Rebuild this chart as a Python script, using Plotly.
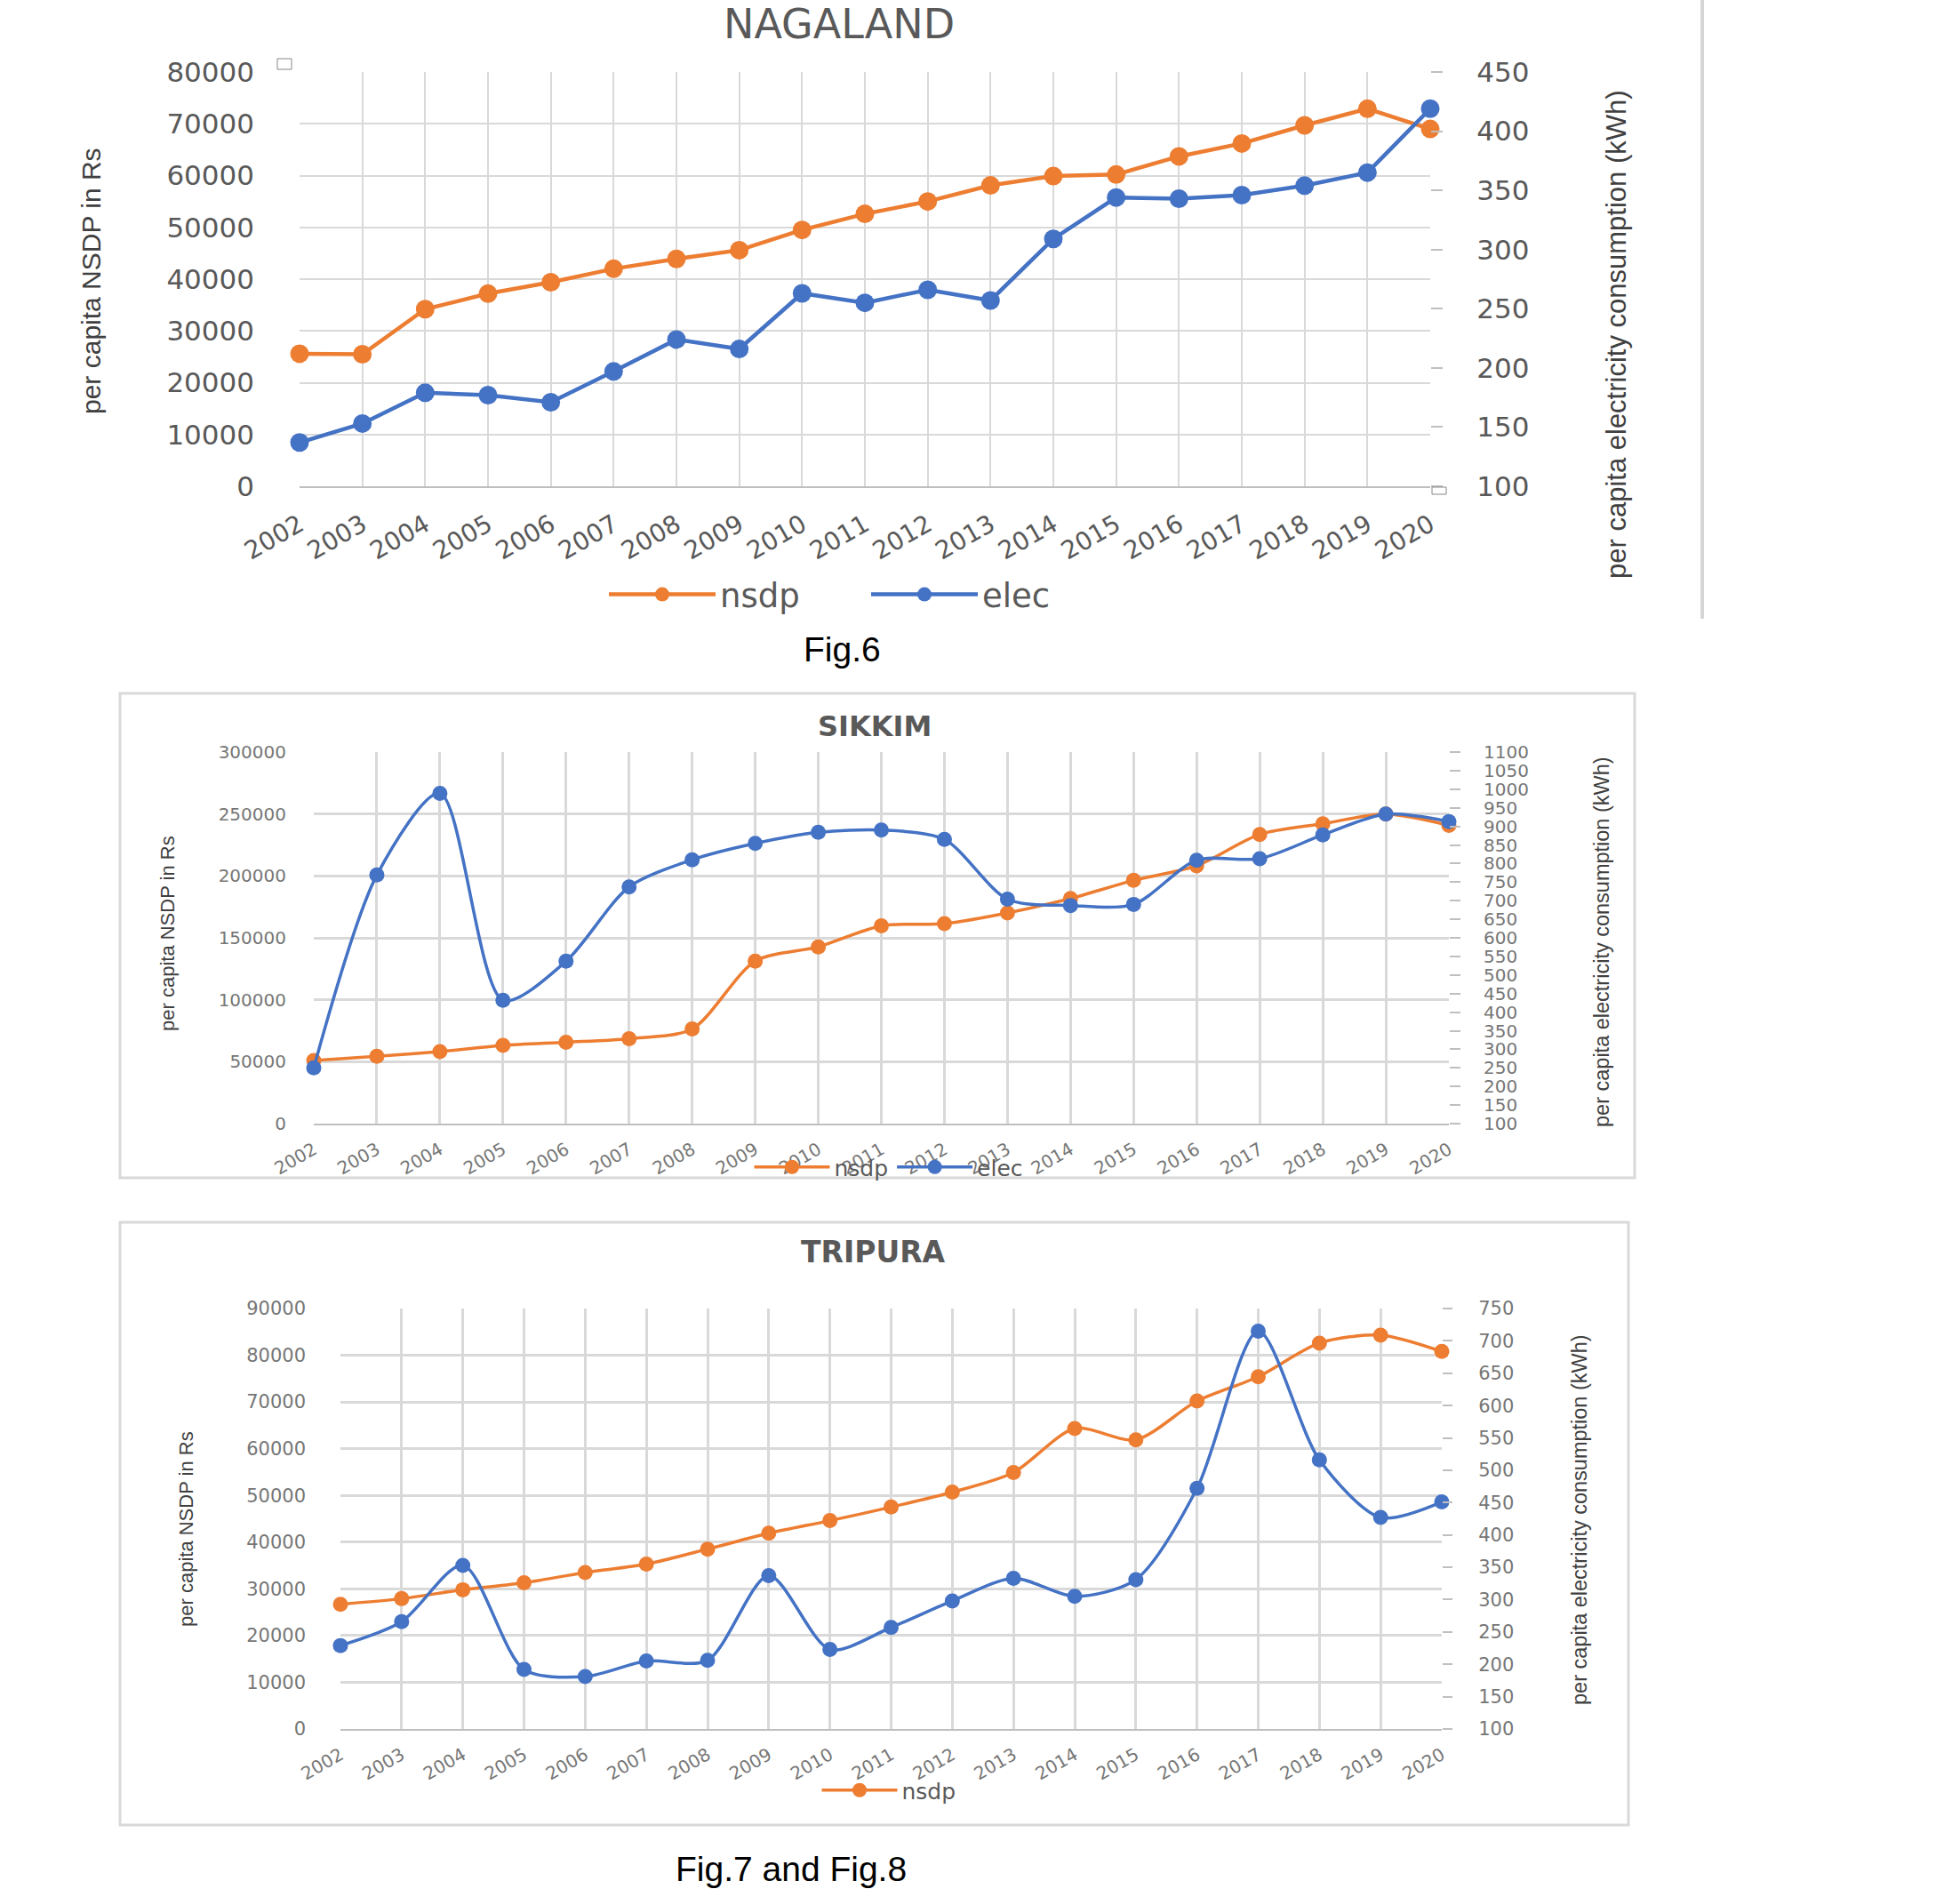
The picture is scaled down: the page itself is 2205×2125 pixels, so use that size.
import plotly.graph_objects as go

# ---------------- data ----------------
years = list(range(2002, 2021))
year_labels = [str(y) for y in years]

nagaland_nsdp = [25600, 25500, 34200, 37200, 39400, 42000, 43900, 45600, 49500, 52600,
                 55000, 58100, 59900, 60200, 63700, 66200, 69700, 72900, 69000]
nagaland_elec = [137, 153, 179, 177, 171, 197, 224, 216, 263, 255,
                 266, 257, 309, 344, 343, 346, 354, 365, 419]

sikkim_nsdp = [51000, 54300, 58200, 63100, 65700, 68600, 76400, 131200, 142700, 159700,
               161500, 170100, 181800, 196400, 208200, 233500, 242100, 249900, 240800]
sikkim_elec = [250, 769, 989, 432, 537, 737, 810, 854, 884, 890,
               865, 704, 687, 690, 809, 813, 877, 933, 913]

tripura_nsdp = [26700, 27900, 29800, 31300, 33500, 35300, 38500, 41900, 44600, 47500,
                50700, 54900, 64300, 61900, 70200, 75400, 82600, 84300, 80800]
tripura_elec = [229, 266, 353, 192, 181, 205, 206, 337, 223, 257,
                298, 333, 305, 331, 472, 715, 516, 427, 451]

series_names = ["nsdp", "elec"]
titles = ["NAGALAND", "SIKKIM", "TRIPURA"]
left_title = "per capita NSDP in Rs"
right_title = "per capita electricity consumption (kWh)"

# ---------------- style ----------------
W, H = 2205, 2125
ORANGE = "#ED7D31"
BLUE = "#4472C4"
GRID = "#d9d9d9"
TICKC = "#595959"
LIGHT = "#767676"
NARROW = "Liberation Sans, Arial, sans-serif"
WIDE = "DejaVu Sans, Verdana, sans-serif"


def px_x(x):
    return x / W


def px_y(y):
    return 1 - y / H


fig = go.Figure()

charts = [
    dict(nsdp=nagaland_nsdp, elec=nagaland_elec, xa="x", ya="y", ya2="y2", legend="legend",
         shape="linear", msize=21, lw=4.5, show_elec_legend=True),
    dict(nsdp=sikkim_nsdp, elec=sikkim_elec, xa="x2", ya="y3", ya2="y4", legend="legend2",
         shape="spline", msize=17, lw=3.5, show_elec_legend=True),
    dict(nsdp=tripura_nsdp, elec=tripura_elec, xa="x3", ya="y5", ya2="y6", legend="legend3",
         shape="spline", msize=17, lw=3.5, show_elec_legend=False),
]

for c in charts:
    fig.add_trace(go.Scatter(
        x=years, y=c["nsdp"], name=series_names[0], mode="lines+markers",
        line=dict(color=ORANGE, width=c["lw"], shape=c["shape"], smoothing=0.8),
        marker=dict(color=ORANGE, size=c["msize"]), xaxis=c["xa"], yaxis=c["ya"],
        legend=c["legend"], cliponaxis=False))
    fig.add_trace(go.Scatter(
        x=years, y=c["elec"], name=series_names[1], mode="lines+markers",
        line=dict(color=BLUE, width=c["lw"], shape=c["shape"], smoothing=0.8),
        marker=dict(color=BLUE, size=c["msize"]), xaxis=c["xa"], yaxis=c["ya2"],
        legend=c["legend"], showlegend=c["show_elec_legend"], cliponaxis=False))


def xaxis(dom, anchor, angle, size, color, standoff, gw):
    return dict(domain=dom, anchor=anchor, range=[2002, 2020], tickmode="array",
                tickvals=years, ticktext=year_labels, tickangle=angle,
                showgrid=True, gridcolor=GRID, gridwidth=gw, zeroline=False,
                showline=True, linecolor="#bfbfbf", linewidth=2, ticks="",
                ticklabelstandoff=standoff, automargin=False,
                tickfont=dict(family=WIDE, size=size, color=color), fixedrange=True)


def yleft(dom, anchor, rng, dt, size, color, standoff, gw):
    return dict(domain=dom, anchor=anchor, range=rng, dtick=dt, tick0=0, tickformat="d",
                showgrid=True, gridcolor=GRID, gridwidth=gw, zeroline=False, showline=False,
                ticks="", ticklabelstandoff=standoff, automargin=False,
                tickfont=dict(family=WIDE, size=size, color=color), fixedrange=True)


def yright(over, anchor, rng, size, color, ticklen, standoff):
    return dict(overlaying=over, side="right", anchor=anchor, range=rng, dtick=50, tick0=100,
                tickformat="d", showgrid=False, zeroline=False, showline=False,
                ticks="outside", ticklen=ticklen, tickwidth=2, tickcolor="#bfbfbf",
                ticklabelstandoff=standoff, automargin=False,
                tickfont=dict(family=WIDE, size=size, color=color), fixedrange=True)


# chart 1 : Nagaland
d1x = [px_x(337), px_x(1609)]
d1y = [px_y(547), px_y(81)]
# chart 2 : Sikkim
d2x = [px_x(353), px_x(1630)]
d2y = [px_y(1264), px_y(846)]
# chart 3 : Tripura
d3x = [px_x(383), px_x(1622)]
d3y = [px_y(1945), px_y(1472)]

fig.update_layout(
    width=W, height=H, autosize=False,
    margin=dict(l=0, r=0, t=0, b=0, pad=0, autoexpand=False),
    paper_bgcolor="white", plot_bgcolor="white",
    xaxis=xaxis(d1x, "y", -30, 28, TICKC, 14, 2),
    yaxis=yleft(d1y, "x", [0, 80000], 10000, 31, TICKC, 50, 2),
    yaxis2=yright("y", "x", [100, 450], 31, TICKC, 13, 32),
    xaxis2=xaxis(d2x, "y3", -30, 20, LIGHT, 8, 2.5),
    yaxis3=yleft(d2y, "x2", [0, 300000], 50000, 20, LIGHT, 30, 2.5),
    yaxis4=yright("y3", "x2", [100, 1100], 20, LIGHT, 12, 22),
    xaxis3=xaxis(d3x, "y5", -30, 20, LIGHT, 8, 2.5),
    yaxis5=yleft(d3y, "x3", [0, 90000], 10000, 21, LIGHT, 38, 2.5),
    yaxis6=yright("y5", "x3", [100, 750], 21, LIGHT, 11, 25),
    legend=dict(orientation="h", x=px_x(680), y=px_y(669), xanchor="left", yanchor="middle",
                bgcolor="rgba(0,0,0,0)", font=dict(family=WIDE, size=37, color=TICKC),
                itemwidth=120, entrywidth=160),
    legend2=dict(orientation="h", x=px_x(1000), y=px_y(1313), xanchor="center", yanchor="middle",
                 bgcolor="rgba(0,0,0,0)", font=dict(family=WIDE, size=25, color="#595959"),
                 itemwidth=85),
    legend3=dict(orientation="h", x=px_x(1000), y=px_y(2014), xanchor="center", yanchor="middle",
                 bgcolor="rgba(0,0,0,0)", font=dict(family=WIDE, size=25, color="#595959"),
                 itemwidth=85),
    showlegend=True,
)

ann = []
# chart titles
ann.append(dict(text=titles[0], x=px_x(944), y=px_y(27), font=dict(family=WIDE, size=46, color="#595959")))
ann.append(dict(text=titles[1], x=px_x(984), y=px_y(817),
                font=dict(family=WIDE, size=32, color="#595959", weight="bold")))
ann.append(dict(text=titles[2], x=px_x(982), y=px_y(1408),
                font=dict(family=WIDE, size=33, color="#595959", weight="bold")))
# axis titles
ann.append(dict(text=left_title, x=px_x(102), y=px_y(316), textangle=-90,
                font=dict(family=NARROW, size=30, color="#404040")))
ann.append(dict(text=right_title, x=px_x(1818), y=px_y(376), textangle=-90,
                font=dict(family=NARROW, size=31, color="#404040")))
ann.append(dict(text=left_title, x=px_x(188), y=px_y(1050), textangle=-90,
                font=dict(family=NARROW, size=22, color="#404040")))
ann.append(dict(text=right_title, x=px_x(1802), y=px_y(1060), textangle=-90,
                font=dict(family=NARROW, size=23.5, color="#404040")))
ann.append(dict(text=left_title, x=px_x(209), y=px_y(1720), textangle=-90,
                font=dict(family=NARROW, size=22, color="#404040")))
ann.append(dict(text=right_title, x=px_x(1777), y=px_y(1710), textangle=-90,
                font=dict(family=NARROW, size=23.5, color="#404040")))
# figure captions
ann.append(dict(text="Fig.6", x=px_x(947), y=px_y(731),
                font=dict(family="Liberation Sans, Arial, sans-serif", size=39, color="black")))
ann.append(dict(text="Fig.7 and Fig.8", x=px_x(890), y=px_y(2102),
                font=dict(family="Liberation Sans, Arial, sans-serif", size=39, color="black")))
for a in ann:
    a.update(xref="paper", yref="paper", showarrow=False, xanchor="center", yanchor="middle")
fig.update_layout(annotations=ann)

shapes = [
    # frames of Sikkim and Tripura charts
    dict(type="rect", xref="paper", yref="paper", x0=px_x(135), x1=px_x(1839), y0=px_y(1325), y1=px_y(780),
         line=dict(color="#d9d9d9", width=3)),
    dict(type="rect", xref="paper", yref="paper", x0=px_x(135), x1=px_x(1832), y0=px_y(2053), y1=px_y(1375),
         line=dict(color="#d9d9d9", width=3)),
    # page divider on the right of Nagaland chart
    dict(type="line", xref="paper", yref="paper", x0=px_x(1915), x1=px_x(1915), y0=px_y(696), y1=1,
         line=dict(color="#d6d6d6", width=4)),
    # small chart handles
    dict(type="rect", xref="paper", yref="paper", x0=px_x(312), x1=px_x(328), y0=px_y(78), y1=px_y(66),
         line=dict(color="#888888", width=1)),
    dict(type="rect", xref="paper", yref="paper", x0=px_x(1611), x1=px_x(1627), y0=px_y(556), y1=px_y(548),
         line=dict(color="#888888", width=1)),
]
fig.update_layout(shapes=shapes)

fig.write_html("out.html")
